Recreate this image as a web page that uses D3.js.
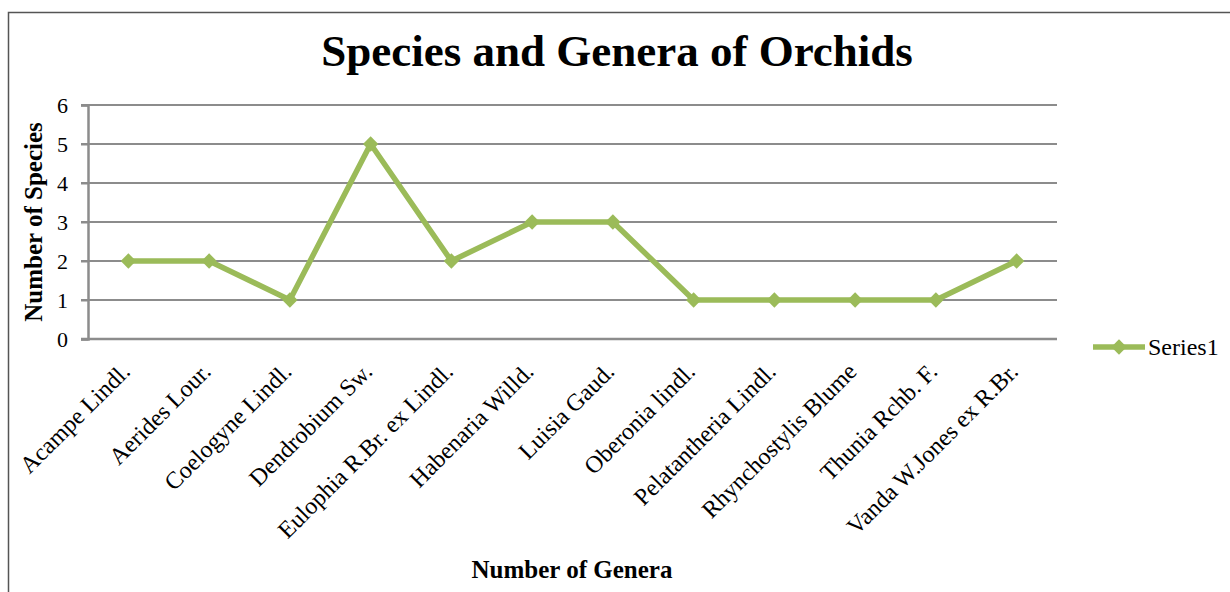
<!DOCTYPE html>
<html>
<head>
<meta charset="utf-8">
<script src="https://cdn.jsdelivr.net/npm/d3@7"></script>
<style>
  body { margin: 0; background: #fff; }
  text { font-family: "Liberation Serif", "Times New Roman", serif; fill: #000; }
</style>
</head>
<body>
<div id="chart"></div>
<script>
// chart data
var genera = ["Acampe Lindl.", "Aerides Lour.", "Coelogyne Lindl.", "Dendrobium Sw.",
  "Eulophia R.Br. ex Lindl.", "Habenaria Willd.", "Luisia Gaud.", "Oberonia lindl.",
  "Pelatantheria Lindl.", "Rhynchostylis Blume", "Thunia Rchb. F.", "Vanda W.Jones ex R.Br."];
var species = [2, 2, 1, 5, 2, 3, 3, 1, 1, 1, 1, 2];
var yTicks = [0, 1, 2, 3, 4, 5, 6];
var seriesName = "Series1";

var W = 1230, H = 592;
var margin = {top: 105, right: 173, bottom: 253, left: 88};
var green = "#9bbb59", grid = "#8c8c8c";

var svg = d3.select("#chart").append("svg")
  .attr("width", W).attr("height", H);

// outer frame
svg.append("path")
  .attr("d", "M8.5," + H + "V12.5H" + W)
  .attr("fill", "none").attr("stroke", "#555").attr("stroke-width", 1.5);

var x = d3.scaleBand().domain(genera)
  .range([margin.left, W - margin.right]);
var y = d3.scaleLinear().domain([0, 6])
  .range([H - margin.bottom, margin.top]);

// gridlines
svg.append("g").selectAll("line").data(yTicks.slice(1)).join("line")
  .attr("x1", margin.left - 7).attr("x2", W - margin.right)
  .attr("y1", function(d){ return y(d); }).attr("y2", function(d){ return y(d); })
  .attr("stroke", grid).attr("stroke-width", 2);

// y axis
var yAxis = svg.append("g")
  .attr("transform", "translate(" + margin.left + ",0)")
  .call(d3.axisLeft(y).tickValues(yTicks).tickSize(7).tickPadding(13).tickFormat(d3.format("d")));
yAxis.select(".domain").attr("stroke", grid).attr("stroke-width", 2.5);
yAxis.selectAll(".tick line").attr("stroke", grid).attr("stroke-width", 2);
yAxis.selectAll(".tick text").style("font-size", "22px")
  .style("font-family", "'Liberation Serif', serif").attr("dy", "0.34em");

// x axis
var xAxis = svg.append("g")
  .attr("transform", "translate(0," + y(0) + ")")
  .call(d3.axisBottom(x).tickSize(0).tickPadding(0));
xAxis.select(".domain").attr("d", "M" + (margin.left - 7) + ",0H" + (W - margin.right))
  .attr("stroke", grid).attr("stroke-width", 2.5);
xAxis.selectAll(".tick text")
  .style("font-size", "24px").style("font-family", "'Liberation Serif', serif")
  .attr("text-anchor", "end")
  .attr("dy", 0).attr("y", 0)
  .attr("transform", "translate(3,34) rotate(-45)");

// line
var line = d3.line()
  .x(function(d, i){ return x(genera[i]) + x.bandwidth() / 2; })
  .y(function(d){ return y(d); });

svg.append("path").datum(species)
  .attr("d", line)
  .attr("fill", "none").attr("stroke", green).attr("stroke-width", 5.5)
  .attr("stroke-linejoin", "round");

var diamond = d3.symbol().type(d3.symbolDiamond2).size(150);
svg.append("g").selectAll("path").data(species).join("path")
  .attr("transform", function(d, i){
    return "translate(" + (x(genera[i]) + x.bandwidth() / 2) + "," + y(d) + ")";
  })
  .attr("d", diamond).attr("fill", green);

// title and axis titles
svg.append("text")
  .attr("x", 617).attr("y", 66).attr("text-anchor", "middle")
  .style("font-size", "45px").style("font-weight", "bold")
  .text("Species and Genera of Orchids");

svg.append("text")
  .attr("transform", "translate(42," + 222 + ") rotate(-90)")
  .attr("text-anchor", "middle")
  .style("font-size", "25px").style("font-weight", "bold")
  .text("Number of Species");

svg.append("text")
  .attr("x", 572).attr("y", 578).attr("text-anchor", "middle")
  .style("font-size", "25px").style("font-weight", "bold")
  .text("Number of Genera");

// legend
var legend = svg.append("g").attr("transform", "translate(1093," + (y(0) + 8) + ")");
legend.append("line").attr("x1", 0).attr("x2", 52).attr("y1", 0).attr("y2", 0)
  .attr("stroke", green).attr("stroke-width", 5.5);
legend.append("path").attr("d", diamond).attr("fill", green)
  .attr("transform", "translate(26,0)");
legend.append("text").attr("x", 55).attr("y", 0).attr("dy", "0.34em")
  .style("font-size", "24px").text(seriesName);
</script>
</body>
</html>
